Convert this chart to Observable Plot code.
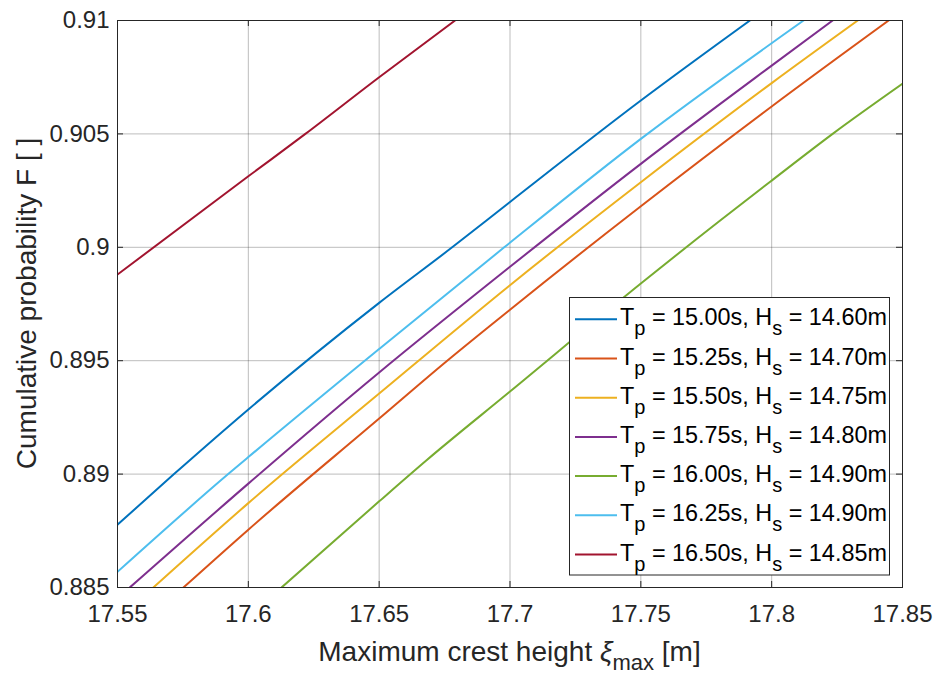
<!DOCTYPE html>
<html>
<head>
<meta charset="utf-8">
<script src="https://cdn.jsdelivr.net/npm/d3@7"></script>
<script src="https://cdn.jsdelivr.net/npm/@observablehq/plot@0.6"></script>
<style>
  html, body { margin: 0; padding: 0; background: white; }
  #chart { width: 936px; height: 674px; }
</style>
</head>
<body>
<div id="chart"></div>
<script>
// ---- data ----
const tpLabels = ["15.00s", "15.25s", "15.50s", "15.75s", "16.00s", "16.25s", "16.50s"];
const hsLabels = ["14.60m", "14.70m", "14.75m", "14.80m", "14.90m", "14.90m", "14.85m"];

const xTp1500 = [17.55, 17.5716, 17.6, 17.65, 17.6779, 17.7, 17.75, 17.7917];
const fTp1500 = [0.88777, 0.89, 0.89285, 0.89755, 0.9, 0.9020, 0.90647, 0.91];

const xTp1525 = [17.5752, 17.6, 17.65, 17.676, 17.7, 17.75, 17.8, 17.8447];
const fTp1525 = [0.885, 0.88755, 0.89245, 0.895, 0.89725, 0.90181, 0.90621, 0.91];

const xTp1550 = [17.5637, 17.6, 17.65, 17.7, 17.75, 17.8, 17.8329];
const fTp1550 = [0.885, 0.88872, 0.89355, 0.89833, 0.90287, 0.90724, 0.91];

const xTp1575 = [17.5547, 17.6, 17.65, 17.7, 17.75, 17.8, 17.8233];
const fTp1575 = [0.885, 0.88958, 0.89448, 0.89914, 0.90368, 0.90801, 0.91];

const xTp1600 = [17.6127, 17.65, 17.668, 17.7, 17.75, 17.7802, 17.8, 17.8233, 17.85];
const fTp1600 = [0.885, 0.8888, 0.8906, 0.89364, 0.8984, 0.90117, 0.90294, 0.905, 0.90721];

const xTp1625 = [17.55, 17.5923, 17.6, 17.65, 17.6978, 17.75, 17.8122];
const fTp1625 = [0.88569, 0.89, 0.89075, 0.89552, 0.9, 0.90478, 0.91];

const xTp1650 = [17.55, 17.6, 17.6218, 17.65, 17.679];
const fTp1650 = [0.8988, 0.90313, 0.905, 0.9075, 0.91];

const seriesX = [xTp1500, xTp1525, xTp1550, xTp1575, xTp1600, xTp1625, xTp1650];
const seriesF = [fTp1500, fTp1525, fTp1550, fTp1575, fTp1600, fTp1625, fTp1650];

const xTicks = [17.55, 17.6, 17.65, 17.7, 17.75, 17.8, 17.85];
const xTickLabels = ["17.55", "17.6", "17.65", "17.7", "17.75", "17.8", "17.85"];
const yTicks = [0.885, 0.89, 0.895, 0.9, 0.905, 0.91];
const yTickLabels = ["0.885", "0.89", "0.895", "0.9", "0.905", "0.91"];

// ---- styles ----
const palette = ["#0072BD", "#D95319", "#EDB120", "#7E2F8E", "#77AC30", "#4DBEEE", "#A2142F"];
const ink = "#262626";
const FONT = "'Liberation Sans', Arial, Helvetica, sans-serif";

const W = 936, H = 674;
const mL = 117, mR = 34, mT = 20, mB = 87;
const plotW = W - mL - mR, plotH = H - mT - mB;

const seriesNames = tpLabels.map((t, i) => `Tp = ${t}, Hs = ${hsLabels[i]}`);
const rows = [];
seriesX.forEach((xs, i) => xs.forEach((x, j) => rows.push({series: seriesNames[i], x, F: seriesF[i][j]})));

const xLab = new Map(xTicks.map((d, i) => [d, xTickLabels[i]]));
const yLab = new Map(yTicks.map((d, i) => [d, yTickLabels[i]]));

const chart = Plot.plot({
  width: W, height: H,
  marginLeft: mL, marginRight: mR, marginTop: mT, marginBottom: mB,
  style: {fontFamily: FONT, fontSize: "24px", color: ink, background: "white", overflow: "visible"},
  x: {domain: [17.55, 17.85], label: null},
  y: {domain: [0.885, 0.91], label: null},
  color: {domain: seriesNames, range: palette},
  marks: [
    Plot.gridX(xTicks, {stroke: "#262626", strokeOpacity: 0.3}),
    Plot.gridY(yTicks, {stroke: "#262626", strokeOpacity: 0.3}),
    Plot.line(rows, {x: "x", y: "F", z: "series", stroke: "series", strokeWidth: 2, curve: "monotone-x", clip: true}),
    Plot.frame({stroke: ink, strokeWidth: 1}),
    Plot.tickX(xTicks, {x: d => d, insetTop: plotH - 6, stroke: ink}),
    Plot.tickX(xTicks, {x: d => d, insetBottom: plotH - 6, stroke: ink}),
    Plot.tickY(yTicks, {y: d => d, insetRight: plotW - 6, stroke: ink}),
    Plot.tickY(yTicks, {y: d => d, insetLeft: plotW - 6, stroke: ink}),
    Plot.axisX(xTicks, {tickSize: 0, tickPadding: 17, tickFormat: d => xLab.get(d), fontSize: 24, fill: ink, label: null}),
    Plot.axisY(yTicks, {tickSize: 0, tickPadding: 8, tickFormat: d => yLab.get(d), fontSize: 24, fill: ink, label: null})
  ]
});

const svg = d3.select(chart);

// axis titles
const xt = svg.append("text")
  .attr("x", mL + plotW / 2).attr("y", 661)
  .attr("text-anchor", "middle")
  .attr("font-family", FONT).attr("font-size", 28).attr("fill", ink);
xt.append("tspan").text("Maximum crest height ");
xt.append("tspan").attr("font-style", "italic").text("ξ");
xt.append("tspan").attr("font-size", 22).attr("dy", 9).text("max");
xt.append("tspan").attr("dy", -9).text(" [m]");

svg.append("text")
  .attr("transform", `translate(36,${mT + plotH / 2}) rotate(-90)`)
  .attr("text-anchor", "middle")
  .attr("font-family", FONT).attr("font-size", 28).attr("fill", ink)
  .text("Cumulative probability F [ ]");

// legend (inside the axes, lower right)
const lg = svg.append("g").attr("text-anchor", "start");
lg.append("rect")
  .attr("x", 569.5).attr("y", 297.5).attr("width", 320).attr("height", 277.5)
  .attr("fill", "white").attr("stroke", ink).attr("stroke-width", 1);
tpLabels.forEach((tp, i) => {
  const cy = 319.3 + i * 39.2;
  lg.append("line")
    .attr("x1", 575).attr("x2", 617).attr("y1", cy).attr("y2", cy)
    .attr("stroke", palette[i]).attr("stroke-width", 2);
  const t = lg.append("text")
    .attr("x", 620).attr("y", cy + 6)
    .attr("text-anchor", "start")
    .attr("font-family", FONT).attr("font-size", 23.4).attr("fill", "#000");
  t.append("tspan").text("T");
  t.append("tspan").attr("font-size", 20).attr("dy", 10).text("p");
  t.append("tspan").attr("dy", -10).text(` = ${tp}, H`);
  t.append("tspan").attr("font-size", 20).attr("dy", 10).text("s");
  t.append("tspan").attr("dy", -10).text(` = ${hsLabels[i]}`);
});

document.getElementById("chart").appendChild(chart);
</script>
</body>
</html>
